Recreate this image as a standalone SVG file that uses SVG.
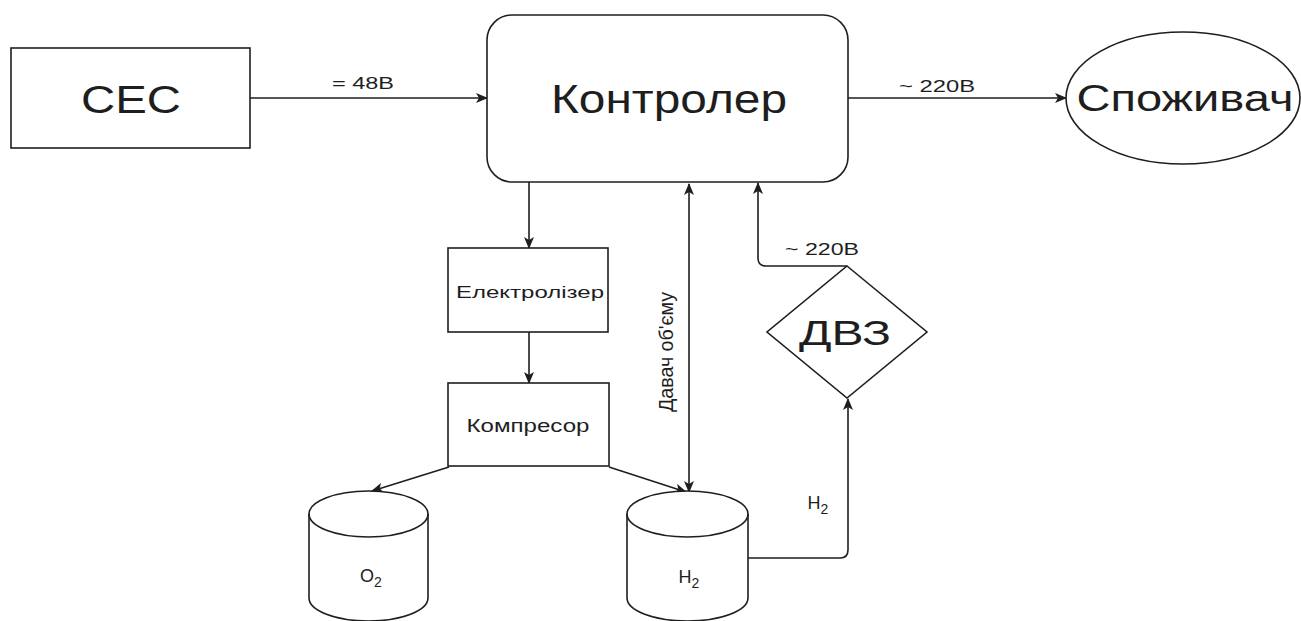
<svg xmlns="http://www.w3.org/2000/svg" width="1301" height="621" viewBox="0 0 1301 621">
<style>
.shape{fill:#fff;stroke:#1e1e1e;stroke-width:1.6}
.edge{fill:none;stroke:#1e1e1e;stroke-width:1.6}
text{font-family:"Liberation Sans",Arial,sans-serif;fill:#1e1e1e;text-anchor:middle}
.big{font-size:39px}
.mid{font-size:17px}
.lbl{font-size:16px}
.chem{font-size:18px}
</style>
<defs>
<marker id="arr" viewBox="0 0 12 10" refX="11" refY="5" markerWidth="12" markerHeight="10" markerUnits="userSpaceOnUse" orient="auto-start-reverse">
<path d="M0,0 L12,5 L0,10 L3,5 Z" fill="#1e1e1e"/>
</marker>
</defs>
<rect width="1301" height="621" fill="#fff"/>
<g id="connectors">
<path class="edge" d="M250,98 H487" marker-end="url(#arr)"/>
<path class="edge" d="M848,98 H1066" marker-end="url(#arr)"/>
<path class="edge" d="M529,182 V248" marker-end="url(#arr)"/>
<path class="edge" d="M529,332 V383" marker-end="url(#arr)"/>
<path class="edge" d="M449,467 L372,491" marker-end="url(#arr)"/>
<path class="edge" d="M609,467 L686,492" marker-end="url(#arr)"/>
<path class="edge" d="M689,184 V492" marker-start="url(#arr)" marker-end="url(#arr)"/>
<path class="edge" d="M847,266 H766 Q758,266 758,258 V183" marker-end="url(#arr)"/>
<path class="edge" d="M748,558 H840 Q848,558 848,550 V399" marker-end="url(#arr)"/>
<text class="lbl" x="363" y="89" textLength="62" lengthAdjust="spacingAndGlyphs">= 48В</text>
<text class="lbl" x="937" y="92" textLength="76" lengthAdjust="spacingAndGlyphs">~ 220В</text>
<text class="lbl" x="822" y="255" textLength="74" lengthAdjust="spacingAndGlyphs">~ 220В</text>
<text class="chem" x="818" y="509">H<tspan font-size="14" dy="5">2</tspan></text>
<text class="mid" transform="translate(673,352) scale(1.15,1) rotate(-90)" x="0" y="0" textLength="120" lengthAdjust="spacingAndGlyphs">Давач об'єму</text>
</g>
<g id="cec">
<rect class="shape" x="11" y="48" width="239" height="100"/>
<text class="big" x="131" y="113" textLength="100" lengthAdjust="spacingAndGlyphs">СЕС</text>
</g>
<g id="controller">
<rect class="shape" x="487" y="15" width="361" height="167" rx="25" ry="25"/>
<text class="big" x="669" y="113" style="font-size:40px" textLength="236" lengthAdjust="spacingAndGlyphs">Контролер</text>
</g>
<g id="consumer">
<ellipse class="shape" cx="1183" cy="98" rx="117" ry="66"/>
<text class="big" x="1185" y="111" style="font-size:37px" textLength="217" lengthAdjust="spacingAndGlyphs">Споживач</text>
</g>
<g id="electrolyzer">
<rect class="shape" x="448" y="248" width="160" height="84"/>
<text class="mid" x="530" y="298" textLength="148" lengthAdjust="spacingAndGlyphs">Електролізер</text>
</g>
<g id="compressor">
<rect class="shape" x="448" y="383" width="161" height="83"/>
<text class="mid" x="528" y="432" style="font-size:18px" textLength="123" lengthAdjust="spacingAndGlyphs">Компресор</text>
</g>
<g id="engine">
<polygon class="shape" points="847,266 927,332 847,398 767,332"/>
<text class="big" x="845" y="345" style="font-size:35px" textLength="92" lengthAdjust="spacingAndGlyphs">ДВЗ</text>
</g>
<g id="o2tank">
<path class="shape" d="M309,514 A59.5,23 0 0 1 428,514 V598 A59.5,23 0 0 1 309,598 Z"/>
<path class="edge" d="M309,514 A59.5,23 0 0 0 428,514"/>
<text class="chem" x="371" y="582">O<tspan font-size="14" dy="5">2</tspan></text>
</g>
<g id="h2tank">
<path class="shape" d="M627,514 A60.5,23 0 0 1 748,514 V598 A60.5,23 0 0 1 627,598 Z"/>
<path class="edge" d="M627,514 A60.5,23 0 0 0 748,514"/>
<text class="chem" x="689" y="583">H<tspan font-size="14" dy="5">2</tspan></text>
</g>
</svg>
